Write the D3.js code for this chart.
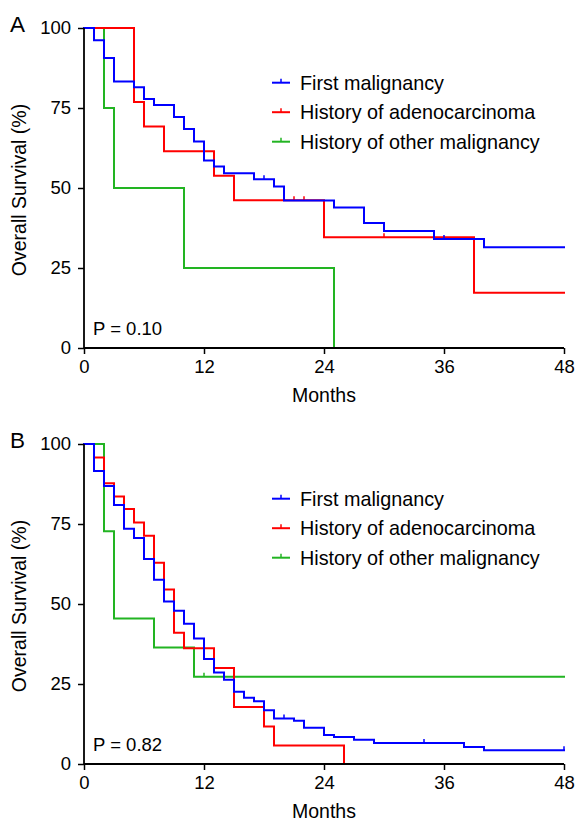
<!DOCTYPE html>
<html>
<head>
<meta charset="utf-8">
<script src="https://cdn.jsdelivr.net/npm/d3@7"></script>
<style>
  html, body { margin: 0; padding: 0; background: #fff; }
  svg { display: block; font-family: "Liberation Sans", Arial, Helvetica, sans-serif; }
</style>
</head>
<body>
<svg id="chart" width="576" height="823"></svg>
<script>
// ---------- Data (months, overall survival %) ----------
const seriesNames = ["First malignancy", "History of adenocarcinoma", "History of other malignancy"];
const seriesColors = ["#0000ff", "#ff0000", "#22b422"];
const xTicks = [0, 12, 24, 36, 48];
const yTicks = [0, 25, 50, 75, 100];
const pValues = ["P = 0.10", "P = 0.82"];
const panelLabels = ["A", "B"];

// Panel A
const aFirstTime = [0, 1, 2, 3, 5, 6, 7, 9, 10, 11, 12, 13, 14, 17, 19, 20, 25, 28, 30, 35, 40, 48];
const aFirstSurv = [100, 96.2, 90.6, 83.3, 81.5, 77.8, 75.9, 72.2, 68.4, 64.5, 58.6, 56.7, 54.6, 52.7, 50.5, 46.1, 43.9, 39.1, 36.6, 34.1, 31.5, 31.5];
const aFirstCens = [18, 36];
const aAdenoTime = [0, 5, 6, 8, 13, 15, 24, 39, 48];
const aAdenoSurv = [100, 76.9, 69.2, 61.5, 53.8, 46.2, 34.6, 17.3, 17.3];
const aAdenoCens = [21, 22, 30];
const aOtherTime = [0, 2, 3, 10, 25];
const aOtherSurv = [100, 75, 50, 25, 0];
const aOtherCens = [];

// Panel B
const bFirstTime = [0, 1, 2, 3, 4, 5, 6, 7, 8, 9, 10, 11, 12, 13, 14, 15, 16, 17, 18, 19, 21, 22, 24, 25, 27, 29, 38, 40, 48];
const bFirstSurv = [100, 91.6, 86.9, 80.9, 73.5, 70.6, 64.1, 57.6, 50.8, 47.9, 43.8, 39.2, 32.8, 28.6, 26.3, 22.6, 20.7, 19.6, 16.8, 14.2, 13.5, 11.3, 9.1, 8.4, 7.6, 6.6, 5.3, 4.3, 4.3];
const bFirstCens = [20, 34, 48];
const bAdenoTime = [0, 1, 2, 3, 4, 5, 6, 7, 8, 9, 10, 13, 15, 18, 19, 26];
const bAdenoSurv = [100, 95.8, 87.7, 83.6, 79.7, 75.5, 71.3, 62.9, 54.5, 41.0, 36.2, 30.0, 17.8, 11.7, 5.8, 0];
const bAdenoCens = [];
const bOtherTime = [0, 2, 3, 7, 11, 48];
const bOtherSurv = [100, 72.7, 45.5, 36.4, 27.3, 27.3];
const bOtherCens = [12];

const panels = [
  { top: 28, label: panelLabels[0], p: pValues[0],
    series: [[aFirstTime, aFirstSurv, aFirstCens], [aAdenoTime, aAdenoSurv, aAdenoCens], [aOtherTime, aOtherSurv, aOtherCens]] },
  { top: 444, label: panelLabels[1], p: pValues[1],
    series: [[bFirstTime, bFirstSurv, bFirstCens], [bAdenoTime, bAdenoSurv, bAdenoCens], [bOtherTime, bOtherSurv, bOtherCens]] }
];

// ---------- Drawing ----------
const svg = d3.select("#chart");
const left = 84, right = 564, plotH = 320;

function survAt(times, surv, t) {
  let v = surv[0];
  for (let i = 0; i < times.length; i++) { if (times[i] <= t) v = surv[i]; }
  return v;
}

panels.forEach(panel => {
  const g = svg.append("g");
  const x = d3.scaleLinear().domain([0, 48]).range([left, right]);
  const y = d3.scaleLinear().domain([0, 100]).range([panel.top + plotH, panel.top]);

  const order = [2, 1, 0];
  order.forEach(si => {
    const [times, surv, cens] = panel.series[si];
    const pts = times.map((t, i) => [t, surv[i]]);
    const line = d3.line().x(d => x(d[0])).y(d => y(d[1])).curve(d3.curveStepAfter);
    g.append("path").datum(pts)
      .attr("d", line)
      .attr("fill", "none")
      .attr("stroke", seriesColors[si])
      .attr("stroke-width", 2)
      .attr("stroke-linejoin", "miter")
      .attr("stroke-linecap", "square");
    g.selectAll(null).data(cens).enter().append("line")
      .attr("x1", d => x(d)).attr("x2", d => x(d))
      .attr("y1", d => y(survAt(times, surv, d)))
      .attr("y2", d => y(survAt(times, surv, d)) - 4)
      .attr("stroke", seriesColors[si]).attr("stroke-width", 1.5);
  });

  const xAxis = d3.axisBottom(x).tickValues(xTicks).tickSize(6).tickPadding(6);
  const gx = g.append("g").attr("transform", `translate(0,${panel.top + plotH})`).call(xAxis);
  gx.select(".domain").attr("d", `M${left},0H${right}`).attr("stroke", "#000").attr("stroke-width", 1.8);
  gx.selectAll(".tick line").attr("stroke", "#000").attr("stroke-width", 1.5);
  gx.selectAll(".tick text").attr("font-size", 18.5).attr("fill", "#000")
    .attr("font-family", "Liberation Sans, Arial, sans-serif");

  const yAxis = d3.axisLeft(y).tickValues(yTicks).tickSize(6).tickPadding(7);
  const gy = g.append("g").attr("transform", `translate(${left},0)`).call(yAxis);
  gy.select(".domain").attr("d", `M0,${panel.top + plotH}V${panel.top}`).attr("stroke", "#000").attr("stroke-width", 1.8);
  gy.selectAll(".tick line").attr("stroke", "#000").attr("stroke-width", 1.5);
  gy.selectAll(".tick text").attr("font-size", 18.5).attr("fill", "#000")
    .attr("font-family", "Liberation Sans, Arial, sans-serif");

  g.append("text").attr("x", (left + right) / 2).attr("y", panel.top + 373.5)
    .attr("text-anchor", "middle").attr("font-size", 19.5).text("Months");
  g.append("text")
    .attr("transform", `translate(26,${panel.top + 162}) rotate(-90)`)
    .attr("text-anchor", "middle").attr("font-size", 19.5).text("Overall Survival (%)");

  g.append("text").attr("x", 10).attr("y", panel.top + 4).attr("font-size", 22.5).text(panel.label);

  g.append("text").attr("x", 93).attr("y", panel.top + 307).attr("font-size", 18.5).text(panel.p);

  seriesNames.forEach((name, i) => {
    const ly = panel.top + 54.7 + i * 29.5;
    g.append("line").attr("x1", 272).attr("x2", 290).attr("y1", ly).attr("y2", ly)
      .attr("stroke", seriesColors[i]).attr("stroke-width", 2);
    g.append("line").attr("x1", 281).attr("x2", 281).attr("y1", ly).attr("y2", ly - 4)
      .attr("stroke", seriesColors[i]).attr("stroke-width", 1.5);
    g.append("text").attr("x", 300).attr("y", ly + 7).attr("font-size", 19.8).text(name);
  });
});
</script>
</body>
</html>
